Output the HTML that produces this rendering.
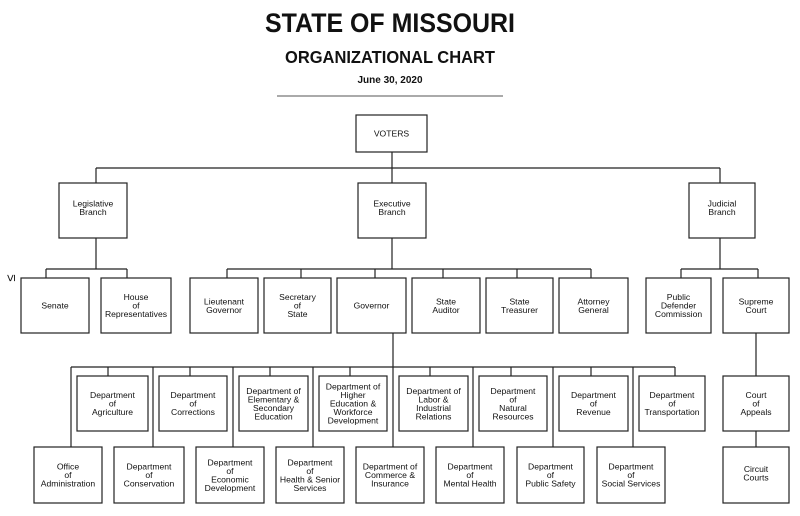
<!DOCTYPE html>
<html><head><meta charset="utf-8"><style>
html,body{margin:0;padding:0;background:#fff;}
svg{display:block;}
text{font-family:"Liberation Sans",Arial,sans-serif;fill:#111;}
.b text{font-size:8.6px;text-anchor:middle;}
rect{fill:#fff;stroke:#222;stroke-width:1.2;}
line,path{stroke:#222;stroke-width:1.2;fill:none;}
</style></head><body>
<svg width="800" height="516" viewBox="0 0 800 516" xmlns="http://www.w3.org/2000/svg">
<text x="390" y="32" font-size="26.5" font-weight="bold" text-anchor="middle" textLength="250" lengthAdjust="spacingAndGlyphs">STATE OF MISSOURI</text>
<text x="390" y="63" font-size="17.5" font-weight="bold" text-anchor="middle" textLength="210" lengthAdjust="spacingAndGlyphs">ORGANIZATIONAL CHART</text>
<text x="390" y="83" font-size="10" font-weight="bold" text-anchor="middle">June 30, 2020</text>
<line x1="277" y1="96" x2="503" y2="96" style="stroke:#555;stroke-width:1"/>
<text x="0" y="0" font-size="13" text-anchor="middle" transform="translate(15,278) rotate(-90)">≤</text>

<!-- connectors -->
<path d="M392 152V183 M96 168H720 M96 168V183 M720 168V183"/>
<path d="M96 238V269 M46 269H127 M46 269V278 M127 269V278"/>
<path d="M392 238V269 M227 269H591 M227 269V278 M301 269V278 M375 269V278 M443 269V278 M517 269V278 M591 269V278"/>
<path d="M720 238V269 M681 269H758 M681 269V278 M758 269V278"/>
<path d="M393 333V447 M71 367H675 M108 367V376 M190 367V376 M270 367V376 M350 367V376 M430 367V376 M511 367V376 M591 367V376 M675 367V376"/>
<path d="M71 367V447 M153 367V447 M233 367V447 M313 367V447 M473 367V447 M553 367V447 M633 367V447"/>
<path d="M756 333V376 M756 431V447"/>

<g class="b">
<rect x="356" y="115" width="71" height="37"/><text x="391.5" y="136.5">VOTERS</text>
<rect x="59" y="183" width="68" height="55"/><text x="93" y="206.3"><tspan x="93">Legislative</tspan><tspan x="93" dy="8.5">Branch</tspan></text>
<rect x="358" y="183" width="68" height="55"/><text x="392" y="206.3"><tspan x="392">Executive</tspan><tspan x="392" dy="8.5">Branch</tspan></text>
<rect x="689" y="183" width="66" height="55"/><text x="722" y="206.3"><tspan x="722">Judicial</tspan><tspan x="722" dy="8.5">Branch</tspan></text>

<rect x="21" y="278" width="68" height="55"/><text x="55" y="308.5">Senate</text>
<rect x="101" y="278" width="70" height="55"/><text x="136" y="300"><tspan x="136">House</tspan><tspan x="136" dy="8.5">of</tspan><tspan x="136" dy="8.5">Representatives</tspan></text>
<rect x="190" y="278" width="68" height="55"/><text x="224" y="304.3"><tspan x="224">Lieutenant</tspan><tspan x="224" dy="8.5">Governor</tspan></text>
<rect x="264" y="278" width="67" height="55"/><text x="297.5" y="300"><tspan x="297.5">Secretary</tspan><tspan x="297.5" dy="8.5">of</tspan><tspan x="297.5" dy="8.5">State</tspan></text>
<rect x="337" y="278" width="69" height="55"/><text x="371.5" y="308.5">Governor</text>
<rect x="412" y="278" width="68" height="55"/><text x="446" y="304.3"><tspan x="446">State</tspan><tspan x="446" dy="8.5">Auditor</tspan></text>
<rect x="486" y="278" width="67" height="55"/><text x="519.5" y="304.3"><tspan x="519.5">State</tspan><tspan x="519.5" dy="8.5">Treasurer</tspan></text>
<rect x="559" y="278" width="69" height="55"/><text x="593.5" y="304.3"><tspan x="593.5">Attorney</tspan><tspan x="593.5" dy="8.5">General</tspan></text>
<rect x="646" y="278" width="65" height="55"/><text x="678.5" y="300"><tspan x="678.5">Public</tspan><tspan x="678.5" dy="8.5">Defender</tspan><tspan x="678.5" dy="8.5">Commission</tspan></text>
<rect x="723" y="278" width="66" height="55"/><text x="756" y="304.3"><tspan x="756">Supreme</tspan><tspan x="756" dy="8.5">Court</tspan></text>

<rect x="77" y="376" width="71" height="55"/><text x="112.5" y="398"><tspan x="112.5">Department</tspan><tspan x="112.5" dy="8.5">of</tspan><tspan x="112.5" dy="8.5">Agriculture</tspan></text>
<rect x="159" y="376" width="68" height="55"/><text x="193" y="398"><tspan x="193">Department</tspan><tspan x="193" dy="8.5">of</tspan><tspan x="193" dy="8.5">Corrections</tspan></text>
<rect x="239" y="376" width="69" height="55"/><text x="273.5" y="393.8"><tspan x="273.5">Department of</tspan><tspan x="273.5" dy="8.5">Elementary &amp;</tspan><tspan x="273.5" dy="8.5">Secondary</tspan><tspan x="273.5" dy="8.5">Education</tspan></text>
<rect x="319" y="376" width="68" height="55"/><text x="353" y="389.5"><tspan x="353">Department of</tspan><tspan x="353" dy="8.5">Higher</tspan><tspan x="353" dy="8.5">Education &amp;</tspan><tspan x="353" dy="8.5">Workforce</tspan><tspan x="353" dy="8.5">Development</tspan></text>
<rect x="399" y="376" width="69" height="55"/><text x="433.5" y="393.8"><tspan x="433.5">Department of</tspan><tspan x="433.5" dy="8.5">Labor &amp;</tspan><tspan x="433.5" dy="8.5">Industrial</tspan><tspan x="433.5" dy="8.5">Relations</tspan></text>
<rect x="479" y="376" width="68" height="55"/><text x="513" y="393.8"><tspan x="513">Department</tspan><tspan x="513" dy="8.5">of</tspan><tspan x="513" dy="8.5">Natural</tspan><tspan x="513" dy="8.5">Resources</tspan></text>
<rect x="559" y="376" width="69" height="55"/><text x="593.5" y="398"><tspan x="593.5">Department</tspan><tspan x="593.5" dy="8.5">of</tspan><tspan x="593.5" dy="8.5">Revenue</tspan></text>
<rect x="639" y="376" width="66" height="55"/><text x="672" y="398"><tspan x="672">Department</tspan><tspan x="672" dy="8.5">of</tspan><tspan x="672" dy="8.5">Transportation</tspan></text>
<rect x="723" y="376" width="66" height="55"/><text x="756" y="398"><tspan x="756">Court</tspan><tspan x="756" dy="8.5">of</tspan><tspan x="756" dy="8.5">Appeals</tspan></text>

<rect x="34" y="447" width="68" height="56"/><text x="68" y="469.5"><tspan x="68">Office</tspan><tspan x="68" dy="8.5">of</tspan><tspan x="68" dy="8.5">Administration</tspan></text>
<rect x="114" y="447" width="70" height="56"/><text x="149" y="469.5"><tspan x="149">Department</tspan><tspan x="149" dy="8.5">of</tspan><tspan x="149" dy="8.5">Conservation</tspan></text>
<rect x="196" y="447" width="68" height="56"/><text x="230" y="465.3"><tspan x="230">Department</tspan><tspan x="230" dy="8.5">of</tspan><tspan x="230" dy="8.5">Economic</tspan><tspan x="230" dy="8.5">Development</tspan></text>
<rect x="276" y="447" width="68" height="56"/><text x="310" y="465.3"><tspan x="310">Department</tspan><tspan x="310" dy="8.5">of</tspan><tspan x="310" dy="8.5">Health &amp; Senior</tspan><tspan x="310" dy="8.5">Services</tspan></text>
<rect x="356" y="447" width="68" height="56"/><text x="390" y="469.5"><tspan x="390">Department of</tspan><tspan x="390" dy="8.5">Commerce &amp;</tspan><tspan x="390" dy="8.5">Insurance</tspan></text>
<rect x="436" y="447" width="68" height="56"/><text x="470" y="469.5"><tspan x="470">Department</tspan><tspan x="470" dy="8.5">of</tspan><tspan x="470" dy="8.5">Mental Health</tspan></text>
<rect x="517" y="447" width="67" height="56"/><text x="550.5" y="469.5"><tspan x="550.5">Department</tspan><tspan x="550.5" dy="8.5">of</tspan><tspan x="550.5" dy="8.5">Public Safety</tspan></text>
<rect x="597" y="447" width="68" height="56"/><text x="631" y="469.5"><tspan x="631">Department</tspan><tspan x="631" dy="8.5">of</tspan><tspan x="631" dy="8.5">Social Services</tspan></text>
<rect x="723" y="447" width="66" height="56"/><text x="756" y="471.8"><tspan x="756">Circuit</tspan><tspan x="756" dy="8.5">Courts</tspan></text>
</g>
</svg>
</body></html>
